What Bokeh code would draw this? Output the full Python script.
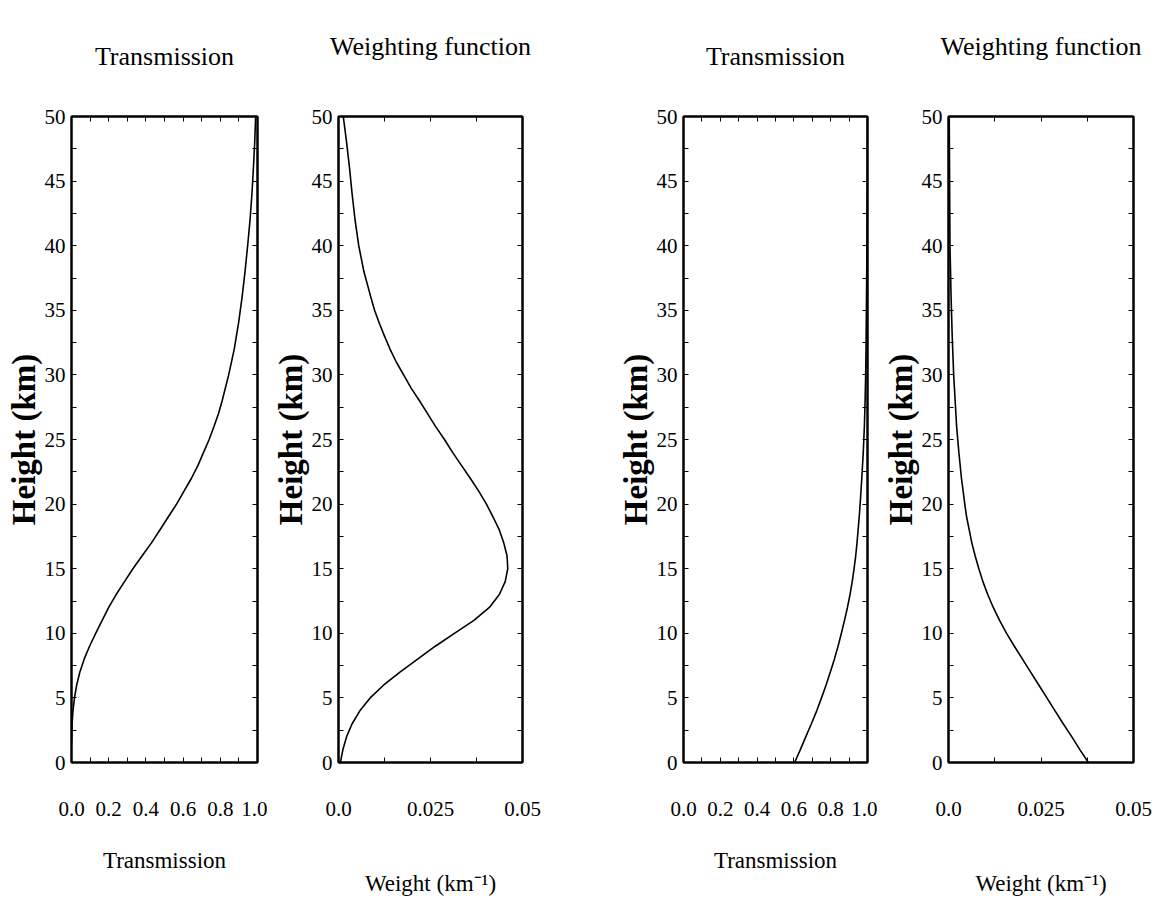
from bokeh.plotting import figure
from bokeh.models import LinearAxis, FixedTicker, Range1d
from bokeh.layouts import row
from bokeh.embed import file_html
from bokeh.resources import INLINE

# ---------------- data ----------------
h1 = [1.5, 3, 4, 5, 6, 7, 8, 9, 10, 11, 12, 13, 14, 15, 16, 17, 18, 19, 20, 21, 22, 23, 24, 25,
      26, 27, 28, 30, 32, 34, 36, 38, 40, 42, 44, 46, 48, 50]
t1 = [0.0, 0.003, 0.008, 0.016, 0.028, 0.045, 0.068, 0.097, 0.13, 0.165, 0.2, 0.24, 0.285, 0.33,
      0.38, 0.43, 0.475, 0.52, 0.565, 0.605, 0.645, 0.68, 0.71, 0.74, 0.766, 0.79, 0.81, 0.845,
      0.875, 0.898, 0.917, 0.933, 0.947, 0.96, 0.97, 0.978, 0.985, 0.99]

h2 = [0, 1, 2, 3, 4, 5, 6, 7, 8, 9, 10, 11, 12, 13, 14, 15, 16, 17, 18, 19, 20, 21, 22, 23, 24,
      25, 26, 27, 28, 29, 30, 31, 32, 33, 34, 35, 36, 38, 40, 42, 44, 46, 48, 50]
w2 = [0.0005, 0.0012, 0.0022, 0.0037, 0.0058, 0.0086, 0.0123, 0.0167, 0.0215, 0.0263, 0.0315,
      0.0368, 0.041, 0.0437, 0.0453, 0.046, 0.0458, 0.0449, 0.0437, 0.042, 0.0402, 0.0381,
      0.0358, 0.0334, 0.031, 0.0288, 0.0264, 0.0242, 0.022, 0.0197, 0.0177, 0.0157, 0.014,
      0.0125, 0.0111, 0.0098, 0.0088, 0.0069, 0.0055, 0.0045, 0.0037, 0.003, 0.0022, 0.0013]

h3 = [0, 1, 2, 3, 4, 5, 6, 7, 8, 9, 10, 11, 12, 13, 14, 15, 16, 17, 18, 19, 20, 22, 24, 26,
      28, 30, 32, 35, 40, 45, 50]
t3 = [0.604, 0.635, 0.665, 0.695, 0.724, 0.75, 0.775, 0.798, 0.82, 0.84, 0.858, 0.875, 0.891,
      0.905, 0.917, 0.927, 0.936, 0.943, 0.949, 0.955, 0.96, 0.969, 0.977, 0.983, 0.987, 0.99,
      0.992, 0.994, 0.997, 0.999, 1.0]

h4 = [0, 1, 2, 3, 4, 5, 6, 7, 8, 9, 10, 11, 12, 13, 14, 15, 16, 17, 18, 19, 20, 22, 24, 26,
      28, 30, 33, 36, 40, 45, 50]
w4 = [0.0378, 0.0355, 0.0333, 0.031, 0.0288, 0.0266, 0.0244, 0.0222, 0.02, 0.0178, 0.0157,
      0.0138, 0.0121, 0.0106, 0.0093, 0.0082, 0.0072, 0.0063, 0.0056, 0.0049, 0.0044, 0.0035,
      0.0028, 0.0022, 0.0018, 0.0014, 0.001, 0.0007, 0.0004, 0.0003, 0.0002]

y_ticks = [0, 5, 10, 15, 20, 25, 30, 35, 40, 45, 50]
y_minor = [2.5, 7.5, 12.5, 17.5, 22.5, 27.5, 32.5, 37.5, 42.5, 47.5]
t_ticks = [0.0, 0.2, 0.4, 0.6, 0.8, 1.0]
t_minor = [0.1, 0.3, 0.5, 0.7, 0.9]
t_labels = ["0.0", "0.2", "0.4", "0.6", "0.8", "1.0"]
w_ticks = [0.0, 0.025, 0.05]
w_minor = [0.0125, 0.0375]
w_labels = ["0.0", "0.025", "0.05"]

FONT = "Liberation Serif"
FRAME_H = 646


def style_axis(ax, ticks, labels=None):
    ax.axis_line_color = "black"
    ax.axis_line_width = 2
    ax.major_tick_line_color = "black"
    ax.minor_tick_line_color = "black"
    ax.major_tick_in = 5
    ax.major_tick_out = 0
    ax.minor_tick_in = 5
    ax.minor_tick_out = 0
    ax.major_label_text_font = FONT
    ax.major_label_text_color = "black"
    ax.major_label_text_font_size = "21px"
    if labels is None:
        ax.major_label_overrides = {t: "" for t in ticks}
        ax.major_label_standoff = 0
    else:
        ax.major_label_overrides = {t: s for t, s in zip(ticks, labels)}


def panel(title, title_standoff, xs, ys, xr, xt, xm, xl, xlabel, xlabel_standoff,
          left, fw, right):
    p = figure(frame_width=fw, frame_height=FRAME_H, min_border_left=left,
               min_border_right=right, min_border_top=116, min_border_bottom=150,
               x_range=Range1d(*xr), y_range=Range1d(0, 50),
               output_backend="svg", toolbar_location=None)
    p.grid.visible = False
    p.outline_line_color = "black"
    p.outline_line_width = 2
    p.background_fill_color = "white"
    p.border_fill_color = "white"

    # title; a blank second line lifts the visible line further above the frame
    p.title.text = title + "\n "
    p.title.text_font = FONT
    p.title.text_font_size = "26px"
    p.title.text_font_style = "normal"
    p.title.text_color = "black"
    p.title.align = "center"
    p.title.standoff = title_standoff

    xa = p.xaxis[0]
    xa.ticker = FixedTicker(ticks=xt, minor_ticks=xm)
    style_axis(xa, xt, xl)
    xa.major_label_standoff = 39
    xa.axis_label = xlabel
    xa.axis_label_text_font = FONT
    xa.axis_label_text_font_size = "23px"
    xa.axis_label_text_font_style = "normal"
    xa.axis_label_text_color = "black"
    xa.axis_label_standoff = xlabel_standoff

    ya = p.yaxis[0]
    ya.ticker = FixedTicker(ticks=y_ticks, minor_ticks=y_minor)
    style_axis(ya, y_ticks, [str(v) for v in y_ticks])
    ya.major_label_standoff = 6
    ya.axis_label = "Height (km)"
    ya.axis_label_text_font = FONT
    ya.axis_label_text_font_size = "33px"
    ya.axis_label_text_font_style = "bold"
    ya.axis_label_text_color = "black"
    ya.axis_label_standoff = 0

    top = LinearAxis(ticker=FixedTicker(ticks=xt, minor_ticks=xm))
    style_axis(top, xt)
    p.add_layout(top, "above")
    rt = LinearAxis(ticker=FixedTicker(ticks=y_ticks, minor_ticks=y_minor))
    style_axis(rt, y_ticks)
    p.add_layout(rt, "right")

    p.line(xs, ys, line_color="black", line_width=1.6)
    return p


p1 = panel("Transmission", 34, t1, h1, (0, 1), t_ticks, t_minor, t_labels,
           "Transmission", 29, 71, 186, 10)
p2 = panel("Weighting function", 54, w2, h2, (0, 0.05), w_ticks, w_minor, w_labels,
           "Weight (km\u207b\u00b9)", 52, 71, 184, 90)
p3 = panel("Transmission", 34, t3, h3, (0, 1), t_ticks, t_minor, t_labels,
           "Transmission", 29, 71, 184, 10)
p4 = panel("Weighting function", 54, w4, h4, (0, 0.05), w_ticks, w_minor, w_labels,
           "Weight (km\u207b\u00b9)", 52, 71, 185, 22)

layout = row(p1, p2, p3, p4, spacing=0)
open("out.html", "w").write(file_html(layout, INLINE))
